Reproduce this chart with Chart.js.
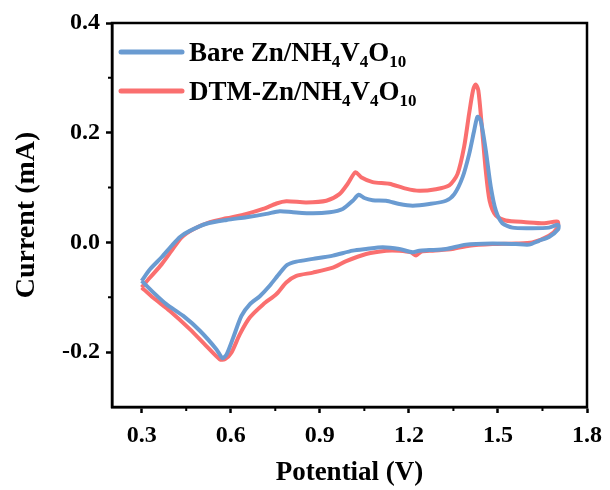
<!DOCTYPE html>
<html>
<head>
<meta charset="utf-8">
<script src="https://cdn.jsdelivr.net/npm/chart.js@4.4.1/dist/chart.umd.min.js"></script>
<style>
html,body{margin:0;padding:0;background:#fff;}
#wrap{width:610px;height:490px;position:relative;}
</style>
</head>
<body>
<div id="wrap"><canvas id="c" width="610" height="490"></canvas></div>
<script>
// ---- data ----
const seriesLabels = ['Bare Zn/NH\u2084V\u2084O\u2081\u2080', 'DTM-Zn/NH\u2084V\u2084O\u2081\u2080'];
const xTickValues = [0.3, 0.6, 0.9, 1.2, 1.5, 1.8];
const yTickValues = [-0.2, 0.0, 0.2, 0.4];
const xMinorTicks = [0.45, 0.75, 1.05, 1.35, 1.65];
const yMinorTicks = [-0.1, 0.1, 0.3];

const bareV = [0.300,0.328,0.367,0.401,0.429,0.462,0.518,0.586,0.653,0.720,0.765,0.810,0.877,0.933,0.977,1.011,1.031,1.050,1.078,1.123,1.168,1.213,1.269,1.325,1.353,1.381,1.403,1.420,1.431,1.442,1.459,1.476,1.493,1.515,1.549,1.616,1.672,1.703,
  1.703,1.672,1.638,1.605,1.560,1.481,1.392,1.325,1.269,1.235,1.213,1.168,1.112,1.056,1.011,0.944,0.877,0.821,0.790,0.765,0.731,0.698,0.664,0.636,0.608,0.586,0.572,0.552,0.496,0.440,0.384,0.339,0.300];
const bareI = [-0.070,-0.049,-0.027,-0.006,0.010,0.021,0.034,0.041,0.046,0.052,0.057,0.055,0.053,0.055,0.061,0.076,0.087,0.081,0.077,0.076,0.070,0.067,0.070,0.076,0.088,0.119,0.161,0.204,0.229,0.222,0.168,0.101,0.058,0.035,0.027,0.026,0.027,0.032,
  0.024,0.010,0.003,-0.004,-0.003,-0.002,-0.004,-0.012,-0.014,-0.015,-0.018,-0.012,-0.009,-0.012,-0.015,-0.024,-0.030,-0.035,-0.041,-0.056,-0.079,-0.098,-0.113,-0.134,-0.174,-0.204,-0.211,-0.195,-0.161,-0.134,-0.113,-0.091,-0.070];

const dtmV = [0.300,0.328,0.367,0.401,0.434,0.474,0.530,0.586,0.653,0.709,0.754,0.787,0.854,0.922,0.966,0.994,1.020,1.039,1.078,1.134,1.190,1.235,1.291,1.336,1.364,1.386,1.403,1.416,1.425,1.434,1.446,1.459,1.472,1.493,1.526,1.593,1.656,1.701,
  1.701,1.672,1.616,1.560,1.481,1.403,1.347,1.280,1.241,1.224,1.207,1.168,1.123,1.056,0.989,0.944,0.877,0.821,0.787,0.754,0.709,0.664,0.630,0.602,0.580,0.563,0.518,0.462,0.395,0.339,0.300];
const dtmI = [-0.082,-0.064,-0.040,-0.015,0.009,0.024,0.037,0.044,0.052,0.061,0.071,0.075,0.073,0.076,0.088,0.107,0.128,0.119,0.110,0.107,0.098,0.094,0.097,0.104,0.125,0.174,0.235,0.277,0.288,0.277,0.210,0.131,0.076,0.049,0.040,0.037,0.035,0.038,
  0.027,0.012,0.000,-0.002,-0.003,-0.006,-0.012,-0.015,-0.017,-0.024,-0.018,-0.015,-0.015,-0.021,-0.034,-0.046,-0.055,-0.061,-0.073,-0.094,-0.113,-0.137,-0.168,-0.201,-0.213,-0.213,-0.189,-0.158,-0.125,-0.101,-0.082];

const colors = ['#6A9BD1', '#FA6F6F'];

function pts(xs, ys){ return xs.map((x,i)=>({x:x, y:ys[i]})); }

const FONT = '"Liberation Serif", "Times New Roman", serif';

// legend drawn with sub-scripts
const subMap = {'\u2080':'0','\u2081':'1','\u2082':'2','\u2083':'3','\u2084':'4','\u2085':'5','\u2086':'6','\u2087':'7','\u2088':'8','\u2089':'9'};
const legendPlugin = {
  id:'subLegend',
  afterDatasetsDraw(chart){
    const ctx = chart.ctx;
    const ca = chart.chartArea;
    ctx.save();
    chart.data.datasets.forEach((ds, i) => {
      const y = ca.top + 29 + i*39;
      const x0 = ca.left + 9;
      ctx.strokeStyle = ds.borderColor;
      ctx.lineWidth = 5;
      ctx.lineCap = 'round';
      ctx.beginPath(); ctx.moveTo(x0, y); ctx.lineTo(x0 + 61, y); ctx.stroke();
      let tx = x0 + 68;
      const base = y + 9;
      ctx.fillStyle = '#000';
      ctx.textBaseline = 'alphabetic';
      ctx.textAlign = 'left';
      let run = ''; let runSub = false;
      const flush = () => {
        if (!run) return;
        if (runSub) { ctx.font = 'bold 17px ' + FONT; ctx.fillText(run, tx, base + 6); }
        else { ctx.font = 'bold 27px ' + FONT; ctx.fillText(run, tx, base); }
        tx += ctx.measureText(run).width;
        run = '';
      };
      for (const ch of ds.label) {
        const isSub = ch in subMap;
        if (isSub !== runSub) { flush(); runSub = isSub; }
        run += isSub ? subMap[ch] : ch;
      }
      flush();
    });
    ctx.restore();
  }
};

const framePlugin = {
  id:'frame',
  afterDraw(chart){
    const ctx = chart.ctx, ca = chart.chartArea;
    const xs = chart.scales.x, ys = chart.scales.y;
    ctx.save();
    ctx.strokeStyle = '#000';
    ctx.lineWidth = 2.5;
    ctx.strokeRect(ca.left, ca.top, ca.right - ca.left, ca.bottom - ca.top);
    ctx.lineWidth = 2;
    ctx.beginPath();
    xMinorTicks.forEach(v => { const px = xs.getPixelForValue(v); ctx.moveTo(px, ca.bottom); ctx.lineTo(px, ca.bottom + 4); });
    yMinorTicks.forEach(v => { const py = ys.getPixelForValue(v); ctx.moveTo(ca.left, py); ctx.lineTo(ca.left - 4, py); });
    ctx.stroke();
    ctx.restore();
  }
};

new Chart(document.getElementById('c'), {
  type: 'scatter',
  data: {
    datasets: [
      { label: seriesLabels[0], data: pts(bareV, bareI), borderColor: colors[0], backgroundColor: colors[0], showLine: true, pointRadius: 0, borderWidth: 4, tension: 0.25 },
      { label: seriesLabels[1], data: pts(dtmV, dtmI), borderColor: colors[1], backgroundColor: colors[1], showLine: true, pointRadius: 0, borderWidth: 4, tension: 0.25 }
    ]
  },
  options: {
    responsive: false,
    animation: false,
    devicePixelRatio: 1,
    layout: { padding: { top: 23, right: 22, left: 0, bottom: 0 } },
    plugins: { legend: { display: false }, tooltip: { enabled: false } },
    scales: {
      x: {
        type: 'linear', min: 0.2, max: 1.8,
        afterBuildTicks: s => { s.ticks = xTickValues.map(v => ({value: v})); },
        afterFit: s => { s.height = 83; },
        grid: { drawOnChartArea: false, drawTicks: true, tickLength: 6, tickWidth: 2.5, tickColor: '#000' },
        border: { display: true, color: '#000', width: 2.5 },
        ticks: { color: '#000', padding: 8, maxRotation: 0, font: { family: FONT, size: 24, weight: 'bold' }, callback: v => Number(v).toFixed(1) },
        title: { display: true, text: 'Potential (V)', color: '#000', padding: { top: 0, bottom: 1 }, font: { family: FONT, size: 27, weight: 'bold' } }
      },
      y: {
        type: 'linear', min: -0.3, max: 0.4,
        afterBuildTicks: s => { s.ticks = yTickValues.map(v => ({value: v})); },
        afterFit: s => { s.width = 112; },
        grid: { drawOnChartArea: false, drawTicks: true, tickLength: 6, tickWidth: 2.5, tickColor: '#000' },
        border: { display: true, color: '#000', width: 2.5 },
        ticks: { color: '#000', padding: 6, font: { family: FONT, size: 24, weight: 'bold' }, callback: v => Number(v).toFixed(1) },
        title: { display: true, text: 'Current (mA)', color: '#000', padding: { top: 10, bottom: 0 }, font: { family: FONT, size: 28, weight: 'bold' } }
      }
    }
  },
  plugins: [legendPlugin, framePlugin]
});
</script>
</body>
</html>
